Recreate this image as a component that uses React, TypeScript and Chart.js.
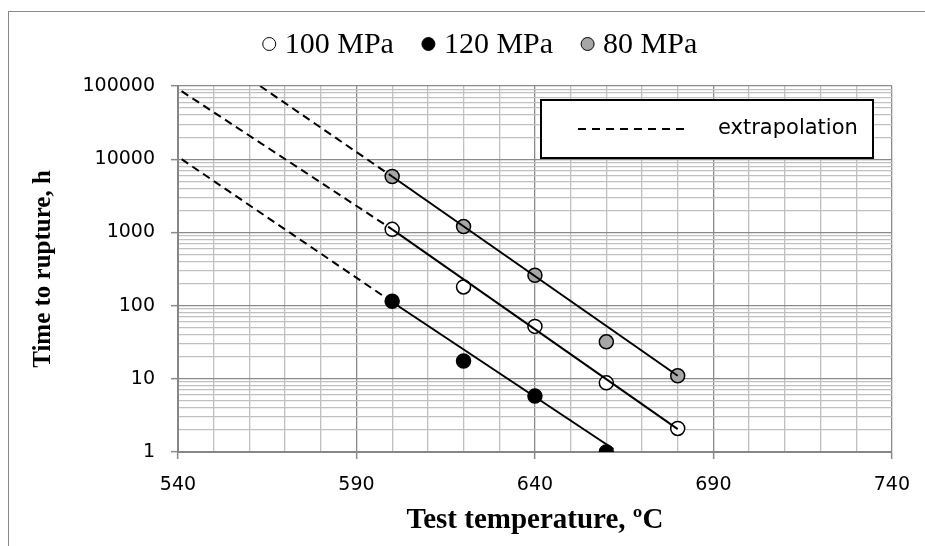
import React, { useEffect, useRef } from 'react';
import { Chart, registerables } from 'chart.js';

Chart.register(...registerables);

// ---- data ----
const temperatures = [600, 620, 640, 660, 680];
const temperatures120 = [600, 620, 640, 660];
const rupture100 = [1100, 180, 52, 8.8, 2.1];
const rupture120 = [115, 17.5, 5.8, 1];
const rupture80 = [5800, 1200, 260, 32, 11];

const fit100Temps = [600, 680];
const fit100Values = [1100, 2.05];
const fit120Temps = [600, 662];
const fit120Values = [112, 1.1];
const fit80Temps = [600, 680];
const fit80Values = [5800, 11];

const extra100Temps = [541, 600];
const extra100Values = [85000, 1100];
const extra120Temps = [541, 600];
const extra120Values = [10000, 112];
const extra80Temps = [563, 600];
const extra80Values = [100000, 5800];

const xTickLabels = [540, 590, 640, 690, 740];
const yTickLabels = [1, 10, 100, 1000, 10000, 100000];
const seriesLabels = ['100 MPa', '120 MPa', '80 MPa'];
const seriesFills = ['#ffffff', '#000000', '#a6a6a6'];
const noteLabel = 'extrapolation';
const xTitle = 'Test temperature, ºC';
const yTitle = 'Time to rupture, h';

const MAJOR = '#8a8a8a';
const MINOR = '#c0c0c0';

const pts = (xs: number[], ys: number[]) => xs.map((x, i) => ({ x, y: ys[i] }));

const pointSet = (i: number, xs: number[], ys: number[]) => ({
  label: seriesLabels[i],
  data: pts(xs, ys),
  backgroundColor: seriesFills[i],
  borderColor: '#000000',
  borderWidth: 1.5,
  pointRadius: 7,
  pointHoverRadius: 7,
  showLine: false,
  order: 2,
  isMarker: true,
});

const lineSet = (xs: number[], ys: number[], dashed: boolean) => ({
  label: dashed ? 'extrapolation' : 'fit',
  data: pts(xs, ys),
  borderColor: '#000000',
  backgroundColor: '#000000',
  borderWidth: 2,
  borderDash: dashed ? [8, 5] : [],
  pointRadius: 0,
  showLine: true,
  order: 1,
  isMarker: false,
});

const overlayPlugin = {
  id: 'overlay',
  afterDraw(chart: any) {
    const { ctx, chartArea: a } = chart;
    ctx.save();
    // top legend (series markers)
    const markers = chart.data.datasets.filter((d: any) => d.isMarker);
    ctx.font = '30px "Liberation Serif"';
    ctx.textBaseline = 'middle';
    ctx.textAlign = 'left';
    const r = 6.5;
    const gap = 9;
    const itemGap = 28;
    const widths = markers.map((d: any) => ctx.measureText(d.label).width);
    const total =
      widths.reduce((s: number, w: number) => s + 2 * r + gap + w, 0) + itemGap * (markers.length - 1);
    let x = chart.width / 2 + 13 - total / 2;
    const y = 32;
    markers.forEach((d: any, i: number) => {
      ctx.beginPath();
      ctx.arc(x + r, y, r, 0, Math.PI * 2);
      ctx.fillStyle = d.backgroundColor;
      ctx.fill();
      ctx.lineWidth = 1;
      ctx.strokeStyle = '#000';
      ctx.stroke();
      x += 2 * r + gap;
      ctx.fillStyle = '#000';
      ctx.fillText(d.label, x, y + 1);
      x += widths[i] + itemGap;
    });

    // extrapolation key box
    const bx = a.left + 363;
    const by = a.top + 14;
    const bw = 332;
    const bh = 58;
    ctx.fillStyle = '#ffffff';
    ctx.fillRect(bx, by, bw, bh);
    ctx.lineWidth = 2;
    ctx.strokeStyle = '#000';
    ctx.strokeRect(bx, by, bw, bh);
    ctx.setLineDash([8, 6]);
    ctx.beginPath();
    ctx.moveTo(bx + 37, by + bh / 2);
    ctx.lineTo(bx + 149, by + bh / 2);
    ctx.stroke();
    ctx.setLineDash([]);
    ctx.font = '21px "DejaVu Sans"';
    ctx.fillStyle = '#000';
    ctx.fillText(noteLabel, bx + 177, by + bh / 2);
    ctx.restore();
  },
};

export default function App() {
  const ref = useRef<HTMLCanvasElement>(null);

  useEffect(() => {
    if (!ref.current) return;
    const chart = new Chart(ref.current, {
      type: 'scatter',
      data: {
        datasets: [
          pointSet(0, temperatures, rupture100),
          pointSet(1, temperatures120, rupture120),
          pointSet(2, temperatures, rupture80),
          lineSet(fit100Temps, fit100Values, false),
          lineSet(fit120Temps, fit120Values, false),
          lineSet(fit80Temps, fit80Values, false),
          lineSet(extra100Temps, extra100Values, true),
          lineSet(extra120Temps, extra120Values, true),
          lineSet(extra80Temps, extra80Values, true),
        ] as any,
      },
      options: {
        animation: false,
        responsive: false,
        events: [],
        layout: { padding: { top: 74, right: 32, left: 0, bottom: 0 } },
        plugins: {
          legend: { display: false },
          tooltip: { enabled: false },
        },
        scales: {
          x: {
            type: 'linear',
            position: 'bottom',
            min: 540,
            max: 740,
            afterFit: (s: any) => {
              s.height = 94;
            },
            ticks: {
              stepSize: 10,
              autoSkip: false,
              maxRotation: 0,
              padding: 15,
              color: '#000',
              font: { family: '"DejaVu Sans"', size: 19 },
              callback: (v: any) => (xTickLabels.includes(Number(v)) ? String(v) : ''),
            },
            grid: {
              color: (c: any) => (c.tick && xTickLabels.includes(c.tick.value) ? MAJOR : MINOR),
              lineWidth: 1.3,
              tickLength: 7,
              tickWidth: 1.5,
              tickColor: (c: any) =>
                c.tick && xTickLabels.includes(c.tick.value) ? MAJOR : 'rgba(0,0,0,0)',
            },
            border: { color: '#868686', width: 2 },
            title: {
              display: true,
              text: xTitle,
              color: '#000',
              font: { family: '"Liberation Serif"', size: 29, weight: 'bold' },
              padding: { top: 0, bottom: 8 },
            },
          },
          y: {
            type: 'logarithmic',
            min: 1,
            max: 100000,
            afterFit: (s: any) => {
              s.width = 169;
            },
            afterBuildTicks: (s: any) => {
              const ticks: { value: number }[] = [];
              yTickLabels.forEach((d, i) => {
                if (i < yTickLabels.length - 1) {
                  for (let k = 1; k <= 9; k++) ticks.push({ value: d * k });
                } else {
                  ticks.push({ value: d });
                }
              });
              s.ticks = ticks;
            },
            ticks: {
              autoSkip: false,
              padding: 16,
              color: '#000',
              font: { family: '"DejaVu Sans"', size: 19 },
              callback: (v: any) => (yTickLabels.includes(Number(v)) ? String(v) : ''),
            },
            grid: {
              color: (c: any) => (c.tick && yTickLabels.includes(c.tick.value) ? MAJOR : MINOR),
              lineWidth: 1.3,
              tickLength: 7,
              tickWidth: 1.5,
              tickColor: (c: any) =>
                c.tick && yTickLabels.includes(c.tick.value) ? MAJOR : 'rgba(0,0,0,0)',
            },
            border: { color: '#868686', width: 2 },
            title: {
              display: true,
              text: yTitle,
              color: '#000',
              font: { family: '"Liberation Serif"', size: 25, weight: 'bold' },
              padding: { top: 20, bottom: 0 },
            },
          },
        },
      },
      plugins: [overlayPlugin],
    } as any);
    return () => chart.destroy();
  }, []);

  return (
    <div
      style={{
        position: 'absolute',
        left: 8,
        top: 11,
        width: 916,
        height: 534,
        borderTop: '1px solid #8a8a8a',
        borderLeft: '1px solid #8a8a8a',
      }}
    >
      <canvas ref={ref} width={916} height={534} style={{ display: 'block' }} />
    </div>
  );
}
